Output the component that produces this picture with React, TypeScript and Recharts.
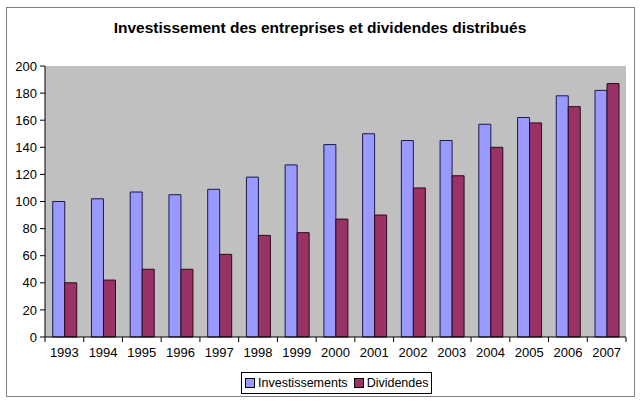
import { BarChart, Bar, XAxis, YAxis, CartesianGrid } from 'recharts'

const years = ['1993', '1994', '1995', '1996', '1997', '1998', '1999', '2000', '2001', '2002', '2003', '2004', '2005', '2006', '2007']
const investissements = [100, 102, 107, 105, 109, 118, 127, 142, 150, 145, 145, 157, 162, 178, 182]
const dividendes = [40, 42, 50, 50, 61, 75, 77, 87, 90, 110, 119, 140, 158, 170, 187]
const yTicks = [0, 20, 40, 60, 80, 100, 120, 140, 160, 180, 200]

const COLORS = { inv: '#9999FF', div: '#993366' }
const FONT = '"Liberation Sans", Arial, sans-serif'

const data = years.map((year, i) => ({
	year,
	inv: investissements[i],
	div: dividendes[i],
}))

// Excel style: tick marks between categories instead of at centers
const YearTick = (props: any) => {
	const { x, y, payload, index, width, visibleTicksCount } = props
	const band = width / visibleTicksCount
	const top = y - 11
	return <g>
		<line x1={x - band / 2} x2={x - band / 2} y1={top} y2={top + 5} stroke='#000' />
		{index === visibleTicksCount - 1 &&
			<line x1={x + band / 2} x2={x + band / 2} y1={top} y2={top + 5} stroke='#000' />}
		<text x={x} y={y} dy='0.71em' textAnchor='middle' fontSize={13} fill='#000' fontFamily={FONT}>
			{payload.value}
		</text>
	</g>
}

const App = () => {
	return <div style={{ position: 'relative', width: 640, height: 402, fontFamily: FONT, background: '#fff' }}>
		<style>{'body{margin:0}'}</style>
		<div style={{
			position: 'absolute', left: 6, top: 7, width: 627, height: 388,
			border: '1px solid #808080', boxSizing: 'content-box',
		}} />
		<div style={{
			position: 'absolute', left: 0, top: 19, width: 640, textAlign: 'center',
			fontSize: 15.5, fontWeight: 'bold', color: '#000',
		}}>
			Investissement des entreprises et dividendes distribués
		</div>
		<div style={{ position: 'absolute', left: 0, top: 0 }}>
			<BarChart
				width={640}
				height={402}
				data={data}
				margin={{ top: 66, right: 14, bottom: 35, left: 5 }}
				barCategoryGap='20%'
				barGap={0}
			>
				<CartesianGrid fill='#C0C0C0' horizontal={false} vertical={false} />
				<XAxis
					dataKey='year'
					height={30}
					interval={0}
					tickLine={false}
					tickSize={5}
					tickMargin={6}
					axisLine={{ stroke: '#000' }}
					tick={<YearTick />}
				/>
				<YAxis
					width={40}
					domain={[0, 200]}
					ticks={yTicks}
					interval={0}
					tickSize={5}
					tickMargin={3}
					axisLine={{ stroke: '#000' }}
					tickLine={{ stroke: '#000' }}
					tick={{ fontSize: 13, fill: '#000', fontFamily: FONT }}
				/>
				<Bar dataKey='inv' name='Investissements' fill={COLORS.inv} stroke='#1a1a4a' strokeWidth={1} isAnimationActive={false} />
				<Bar dataKey='div' name='Dividendes' fill={COLORS.div} stroke='#2a0a1a' strokeWidth={1} isAnimationActive={false} />
			</BarChart>
		</div>
		<div style={{
			position: 'absolute', left: 241, top: 372, height: 20, padding: '0 3px',
			border: '1px solid #000', display: 'flex', alignItems: 'center', gap: 3,
			fontSize: 12.5, color: '#000', background: '#fff',
		}}>
			<span style={{ width: 8, height: 8, background: COLORS.inv, border: '1px solid #000', display: 'inline-block' }} />
			<span>Investissements</span>
			<span style={{ width: 8, height: 8, background: COLORS.div, border: '1px solid #000', display: 'inline-block', marginLeft: 3 }} />
			<span>Dividendes</span>
		</div>
	</div>
}

export default App
